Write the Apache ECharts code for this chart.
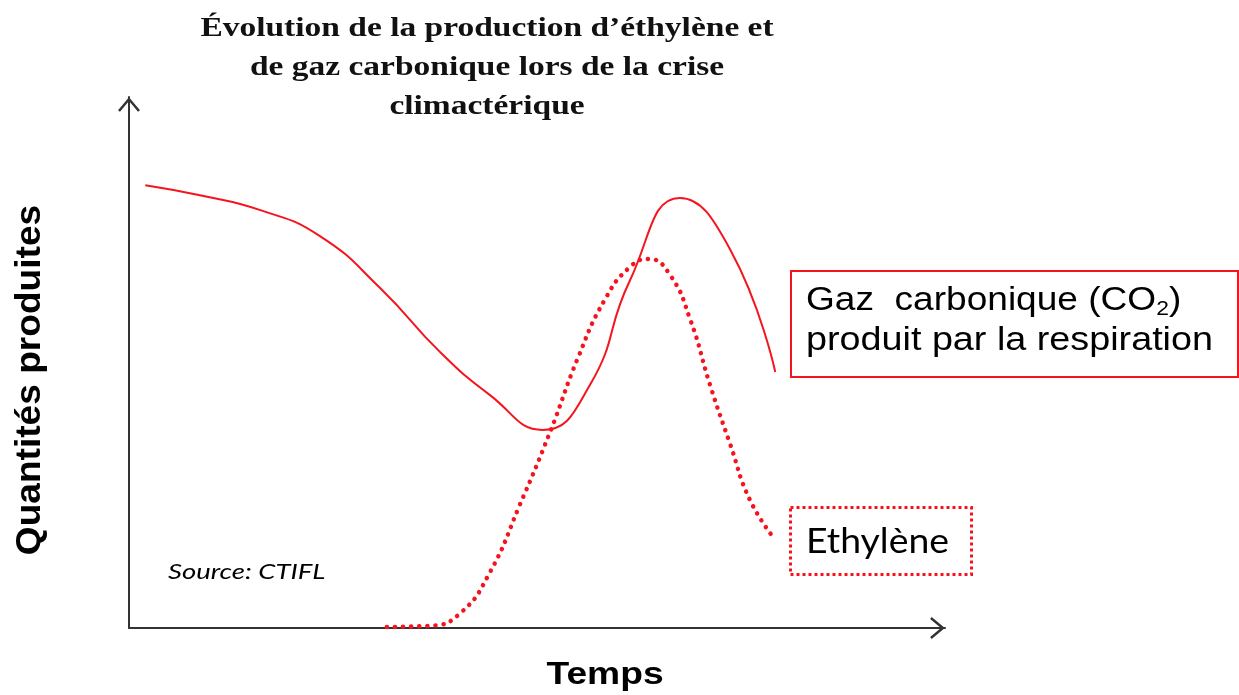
<!DOCTYPE html>
<html>
<head>
<meta charset="utf-8">
<script src="https://cdn.jsdelivr.net/npm/echarts@6/dist/echarts.min.js"></script>
<style>
  html, body { margin: 0; padding: 0; background: #fff; }
  #chart { width: 1239px; height: 695px; }
</style>
</head>
<body>
<div id="chart"></div>
<script>
// temps (0-100) / quantité (0-100)
const co2Temps = [2, 8.7, 16.1, 23.4, 30.8, 38.1, 44.2, 50.7, 56.5, 61.4, 67.5, 73.7, 79.2];
const co2Qte = [83.4, 81.5, 78.7, 73.8, 64, 52, 43.9, 37.3, 45.8, 65.5, 81, 71.2, 48.2];
const ethTemps = [31.6, 36.9, 40.6, 44.2, 47.9, 51.6, 55, 58.3, 61.4, 63.7, 66.3, 68.8, 71.2, 73.7, 76.1, 79.2];
const ethQte = [0.2, 0.4, 2.8, 10.4, 23.2, 36.9, 50.8, 61.8, 68, 69.5, 66.5, 58, 45.8, 34.5, 24.1, 16.6];

const co2Data = co2Temps.map((t, i) => [t, co2Qte[i]]);
const ethData = ethTemps.map((t, i) => [t, ethQte[i]]);

const rouge = '#f5141e';
const chevron = 'path://M0,12 L10,0 L20,12 L18.2,13.4 L10,3.6 L1.8,13.4 Z';
const axe = {
  type: 'value', min: 0, max: 100,
  axisLine: { lineStyle: { color: '#333', width: 2 }, symbol: ['none', chevron], symbolSize: [22, 15], symbolOffset: [0, -7.5] },
  axisTick: { show: false }, axisLabel: { show: false }, splitLine: { show: false }
};

const chart = echarts.init(document.getElementById('chart'));
chart.setOption({
  animation: false,
  grid: { left: 129, right: 294, top: 97, bottom: 67, outerBoundsMode: 'none', containLabel: false },
  xAxis: axe,
  yAxis: axe,
  series: [
    {
      name: 'CO2', type: 'line', data: co2Data, smooth: 0.5, showSymbol: false,
      lineStyle: { color: rouge, width: 2 }
    },
    {
      name: 'Ethylène', type: 'line', data: ethData, smooth: 0.5, showSymbol: false,
      lineStyle: { color: rouge, width: 4.5, type: [0.1, 8], cap: 'round' }
    }
  ],
  graphic: [
    {
      type: 'text', x: 487, y: 10, scaleX: 1.24,
      style: {
        text: 'Évolution de la production d’éthylène et\nde gaz carbonique lors de la crise\nclimactérique',
        align: 'center', verticalAlign: 'top',
        fontFamily: 'Liberation Serif', fontWeight: 'bold', fontSize: 27, lineHeight: 39, fill: '#111'
      }
    },
    {
      type: 'text', x: 30, y: 380, rotation: Math.PI / 2, scaleX: 1.06,
      style: {
        text: 'Quantités produites', align: 'center', verticalAlign: 'middle',
        fontFamily: 'Liberation Sans', fontWeight: 'bold', fontSize: 35, fill: '#000'
      }
    },
    {
      type: 'text', x: 605, y: 675, scaleX: 1.2,
      style: {
        text: 'Temps', align: 'center', verticalAlign: 'middle',
        fontFamily: 'Liberation Sans', fontWeight: 'bold', fontSize: 31, fill: '#000'
      }
    },
    {
      type: 'rect', left: 790, top: 270,
      shape: { width: 447, height: 106 },
      style: { fill: '#fff', stroke: rouge, lineWidth: 2 }
    },
    {
      type: 'text', x: 806, y: 281, scaleX: 1.09,
      style: {
        text: '{a|Gaz  carbonique (CO}{s|2}{a|)}',
        verticalAlign: 'top',
        rich: {
          a: { fontFamily: 'Liberation Sans', fontSize: 34, lineHeight: 40, fill: '#000' },
          s: { fontFamily: 'Liberation Sans', fontSize: 21, lineHeight: 40, padding: [16, 0, 0, 0], fill: '#000' }
        }
      }
    },
    {
      type: 'text', x: 806, y: 321, scaleX: 1.11,
      style: {
        text: 'produit par la respiration', verticalAlign: 'top',
        fontFamily: 'Liberation Sans', fontSize: 34, lineHeight: 40, fill: '#000'
      }
    },
    {
      type: 'rect', left: 789, top: 506,
      shape: { width: 181, height: 67 },
      style: { fill: '#fff', stroke: rouge, lineWidth: 3, lineDash: [3, 3] }
    },
    {
      type: 'text', x: 806, y: 525, scaleX: 1.1,
      style: { text: 'Ethylène', verticalAlign: 'top', fontFamily: 'Lato', fontSize: 34, fill: '#000' }
    },
    {
      type: 'text', x: 168, y: 561, scaleX: 1.25,
      style: { text: 'Source: CTIFL', verticalAlign: 'top', fontFamily: 'Lato', fontStyle: 'italic', fontSize: 22, fill: '#000' }
    }
  ]
});
</script>
</body>
</html>
